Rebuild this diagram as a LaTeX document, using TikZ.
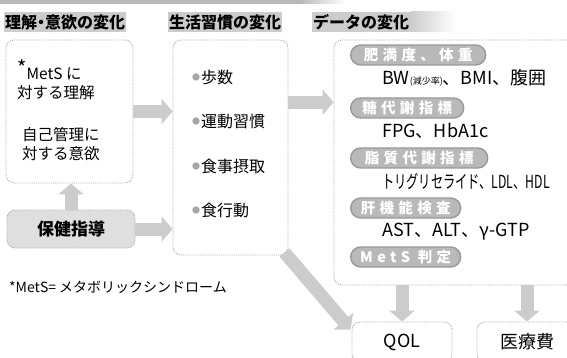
\documentclass[tikz,border=0pt]{standalone}
\usepackage{fontspec}
\setmainfont{Noto Sans CJK JP}
\newfontfamily\pillfont[LetterSpace=30]{Noto Sans CJK JP}
\usetikzlibrary{arrows.meta,calc}
\newcommand\graydot{\raisebox{2.5pt}{\color{gray!70}\fontsize{8}{8}\selectfont ●}\hspace{1pt}}
\begin{document}
\begin{tikzpicture}[x=1pt,y=-1pt,
  box/.style={draw=gray!65, densely dotted, line width=0.9pt, rounded corners=8pt, inner sep=0pt},
  hdr/.style={fill=gray!40, inner xsep=1pt, inner ysep=2pt, anchor=west, font=\bfseries\fontsize{16}{16}\selectfont},
  pill/.style={draw=gray!80, line width=1.4pt, fill=gray!55, rounded corners=10pt, minimum height=20pt, inner sep=0pt, text=white, anchor=west, font=\pillfont\bfseries\fontsize{14.5}{14.5}\selectfont},
  dline/.style={anchor=west, inner sep=0pt, font=\fontsize{18}{18}\selectfont},
  item/.style={anchor=west, inner sep=0pt, font=\fontsize{16}{16}\selectfont},
  body/.style={anchor=west, align=left, inner sep=0pt, font=\fontsize{15.5}{19}\selectfont},
  fat/.style={line width=13pt, draw=gray!40, -{Triangle[length=11pt,width=25pt]}}
]
\useasboundingbox (0,0) rectangle (567,358);
\fill[white] (0,0) rectangle (567,358);
% top bar
\fill[gray!55] (0,0) rectangle (300,4);
\shade[left color=gray!55,right color=white] (300,0) rectangle (345,4);
% headers
\node[hdr] (h1) at (4,22) {理解\hspace{-4pt}・\hspace{-4pt}意欲の変化};
\node[hdr] (h2) at (168,22) {生活習慣の変化};
\node[hdr] (h3) at (312,22) {データの変化};
\shade[left color=gray!40,right color=white] (h3.north east) rectangle ([xshift=45pt]h3.south east);
% left column
\node[box, minimum width=127, minimum height=143] (understand) at (69.5,111.5) {};
\node[body] (t1) at (17,79.5) {\raisebox{4pt}{\fontsize{20}{20}\selectfont *}MetS に\\対する理解};
\node[body] (t2) at (22,144) {自己管理に\\対する意欲};
\node[box, fill=gray!25, minimum width=128, minimum height=38, font=\bfseries\fontsize{17}{17}\selectfont] (hoken) at (71,229) {保健指導};
\node[anchor=west, inner sep=0pt, font=\fontsize{14}{14}\selectfont] (note) at (9,287) {*MetS= メタボリックシンドローム};
% lifestyle column
\node[box, minimum width=115, minimum height=215] (life) at (230.5,147.5) {};
\node[item] (i1) at (192,77) {\graydot 歩数};
\node[item] (i2) at (192,121) {\graydot 運動習慣};
\node[item] (i3) at (192,166) {\graydot 食事摂取};
\node[item] (i4) at (192,210) {\graydot 食行動};
% data column
\node[box, minimum width=241, minimum height=245] (data) at (454.5,162.5) {};
\node[pill, minimum width=135] (p1) at (350,55) {肥満度、体重};
\node[dline] (d1) at (382,78) {BW{\fontsize{9}{9}\selectfont(減少率)}、BMI、腹囲};
\node[pill, minimum width=113] (p2) at (350,108) {糖代謝指標};
\node[dline] (d2) at (382,131) {FPG、HbA1c};
\node[pill, minimum width=137] (p3) at (350,158) {脂質代謝指標};
\node[dline] (d3) at (382,182) {\scalebox{0.68}[1]{トリグリセライド、LDL、HDL}};
\node[pill, minimum width=110] (p4) at (350,208) {肝機能検査};
\node[dline] (d4) at (382,232) {AST、ALT、γ-GTP};
\node[pill, minimum width=110] (p5) at (350,257) {MetS 判定};
% outcome boxes
\node[box, minimum width=100, minimum height=40, font=\fontsize{18}{18}\selectfont] (qol) at (402,342) {QOL};
\node[box, minimum width=100, minimum height=40, font=\fontsize{18}{18}\selectfont] (med) at (527,342) {医療費};
% arrows
\coordinate (lifeout) at ($(life.north east)!0.29!(life.south east)$);
\draw[fat] (understand.east) -- (understand.east -| life.west);
\draw[fat] (hoken.east) -- (hoken.east -| life.west);
\draw[fat] (hoken.north) -- (hoken.north |- understand.south);
\draw[fat] (lifeout) -- (lifeout -| data.west);
\draw[fat] ([shift={(-4,-3)}]life.south east) -- ([shift={(-1,8)}]qol.north west);
\draw[fat] (qol.north |- data.south) -- (qol.north);
\draw[fat] (med.north |- data.south) -- (med.north);
\end{tikzpicture}
\end{document}
